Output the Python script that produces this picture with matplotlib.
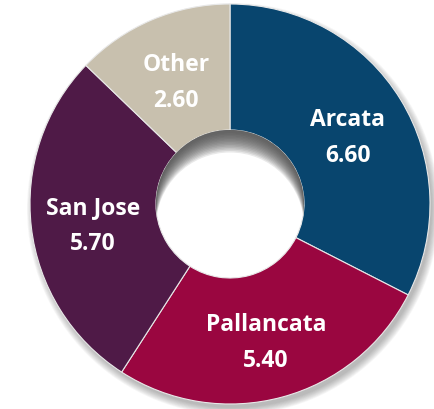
import numpy as np
import matplotlib
matplotlib.use('Agg')
import matplotlib.pyplot as plt
from matplotlib.patches import Circle, Wedge

# |~~~~~~~~~~| Daten |~~~~~~~~~~|
labels = ['Arcata', 'Pallancata', 'San Jose', 'Other']
values = [6.60, 5.40, 5.70, 2.60]
colors = ['#08456e', '#9a0640', '#4f1a47', '#c8c0ae']

# |~~~~~~~~~~| Geometrie (Pixel) |~~~~~~~~~~|
W, H = 435, 410
cx, cy = 230, 205
r_out = 200
r_in = 74

plt.rcParams['font.family'] = ['Open Sans', 'DejaVu Sans']

fig = plt.figure(figsize=(W / 100, H / 100), dpi=100)
ax = fig.add_axes([0, 0, 1, 1])

wedges, _ = ax.pie(values, colors=colors, startangle=90, counterclock=False,
                   radius=r_out, center=(cx, cy),
                   wedgeprops=dict(width=r_out - r_in, edgecolor='#e8e8e8', linewidth=0.8))
for w in wedges:
    w.set_zorder(2)

# pie setzt die Grenzen neu -> danach setzen
ax.set_xlim(0, W)
ax.set_ylim(0, H)
ax.set_aspect('equal')
ax.axis('off')

# Schatten aussen (nur Ring, Loch bleibt frei)
for k in range(10):
    ax.add_patch(Wedge((cx + 3, cy - 5), r_out + 6 - k * 0.8, 0, 360,
                       width=r_out + 6 - k * 0.8 - r_in - 10, color='#606060',
                       alpha=0.05, lw=0, zorder=0))

# Innenschatten im Loch
hole = Circle((cx, cy), r_in, transform=ax.transData)
for k in range(14):
    ring = Wedge((cx, cy - 3 - k * 1.5), r_out, 0, 360, width=r_out - r_in,
                 color='#4a4a4a', alpha=0.12, lw=0, zorder=3)
    ax.add_patch(ring)
    ring.set_clip_path(hole)

# Beschriftungen
total = sum(values)
start = 90.0
for lab, val in zip(labels, values):
    ang = np.deg2rad(start - 360 * val / total / 2)
    start -= 360 * val / total
    rr = 0.69 * r_out
    x = cx + rr * np.cos(ang)
    y = cy + rr * np.sin(ang) - 5
    ax.text(x, y + 6, lab, ha='center', va='bottom', color='white',
            fontsize=16.5, fontweight='bold', zorder=5)
    ax.text(x, y - 6, f'{val:.2f}', ha='center', va='top', color='white',
            fontsize=16.5, fontweight='bold', zorder=5)

fig.savefig('out.png', dpi=100)
